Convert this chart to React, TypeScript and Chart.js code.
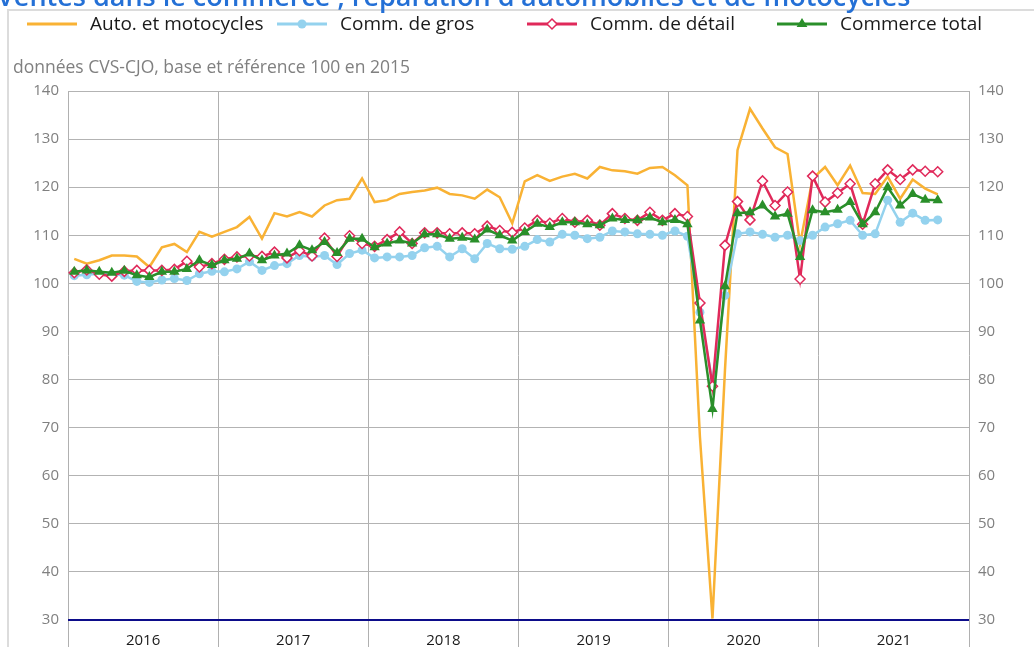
import React, { useEffect, useRef } from 'react';
import { Chart, registerables } from 'chart.js';

Chart.register(...registerables);

const TITLE = "Ventes dans le commerce ; réparation d'automobiles et de motocycles";
const SUBTITLE = 'données CVS-CJO, base et référence 100 en 2015';
const years = ['2016', '2017', '2018', '2019', '2020', '2021'];
const seriesNames = ['Auto. et motocycles', 'Comm. de gros', 'Comm. de détail', 'Commerce total'];

// Monthly values, January 2016 to October 2021
const autoMoto = [
  105.1, 104.1, 104.8, 105.8, 105.8, 105.6, 103.4, 107.5, 108.2, 106.5, 110.7, 109.7,
  110.7, 111.7, 113.8, 109.3, 114.6, 113.9, 114.8, 113.9, 116.2, 117.3, 117.6, 121.8,
  116.9, 117.3, 118.6, 119.0, 119.3, 119.9, 118.6, 118.3, 117.6, 119.5, 117.9, 112.5,
  121.2, 122.5, 121.3, 122.2, 122.8, 121.8, 124.2, 123.5, 123.3, 122.8, 124.0, 124.2,
  122.5, 120.4, 68.0, 30.3, 82.0, 127.7, 136.3, 132.2, 128.3, 126.9, 108.2, 121.8,
  124.2, 120.4, 124.5, 118.8, 118.6, 122.2, 117.6, 121.6, 119.7, 118.5,
];
const commGros = [
  101.6, 101.8, 102.0, 101.9, 101.7, 100.4, 100.2, 100.7, 101.0, 100.6, 102.0, 102.5,
  102.4, 103.0, 104.5, 102.7, 103.7, 104.1, 105.8, 105.5, 105.8, 103.9, 106.2, 106.9,
  105.3, 105.5, 105.5, 105.8, 107.4, 107.7, 105.5, 107.2, 105.1, 108.3, 107.2, 107.1,
  107.7, 109.1, 108.6, 110.2, 110.0, 109.3, 109.6, 110.9, 110.7, 110.3, 110.2, 110.0,
  110.9, 109.8, 94.0, 79.5, 97.5, 110.3, 110.7, 110.2, 109.6, 110.0, 108.9, 110.0,
  111.7, 112.4, 113.1, 110.0, 110.3, 117.3, 112.7, 114.6, 113.1, 113.2,
];
const commDetail = [
  102.2, 102.8, 101.9, 101.5, 102.5, 102.7, 102.7, 102.7, 102.9, 104.6, 103.4, 104.1,
  105.0, 105.5, 105.7, 105.6, 106.5, 105.3, 106.8, 105.7, 109.4, 105.6, 109.9, 108.3,
  107.7, 109.1, 110.7, 108.3, 110.5, 110.5, 110.3, 110.5, 110.3, 111.9, 111.0, 110.6,
  111.5, 113.1, 112.5, 113.5, 112.7, 113.1, 112.1, 114.5, 113.5, 113.1, 114.8, 113.1,
  114.5, 113.9, 95.9, 78.6, 107.9, 117.0, 113.2, 121.3, 116.2, 119.0, 100.9, 122.3,
  116.9, 118.8, 120.7, 112.3, 120.7, 123.6, 121.6, 123.6, 123.3, 123.2,
];
const commTotal = [
  102.4, 102.7, 102.4, 102.2, 102.6, 101.7, 101.3, 102.4, 102.4, 103.0, 104.8, 103.8,
  104.8, 105.1, 106.2, 104.8, 105.8, 106.2, 107.9, 106.9, 108.6, 106.3, 109.3, 109.3,
  107.5, 108.3, 108.9, 108.3, 110.2, 110.2, 109.3, 109.5, 109.1, 111.2, 110.0, 108.9,
  110.7, 112.4, 111.7, 112.7, 112.7, 112.3, 112.1, 113.5, 113.2, 113.1, 113.7, 112.7,
  113.2, 112.3, 92.3, 73.9, 99.4, 114.6, 114.8, 116.2, 113.9, 114.5, 105.5, 115.2,
  114.8, 115.3, 116.9, 112.3, 114.8, 120.0, 116.2, 118.6, 117.4, 117.3,
];

const Y_MIN = 30;
const Y_MAX = 140;
const Y_STEP = 10;
const MONTHS_PER_YEAR = 12;

const FONT = '"Open Sans", "Noto Sans", sans-serif';
const COLORS = ['#f9b234', '#94d2ee', '#e0295a', '#2a8f2a'];

const toPoints = (arr: number[]) => arr.map((v, i) => ({ x: i + 0.5, y: v }));

function drawMarker(ctx: CanvasRenderingContext2D, style: string, x: number, y: number, r: number, color: string) {
  ctx.save();
  ctx.beginPath();
  if (style === 'circle') {
    ctx.arc(x, y, r, 0, Math.PI * 2);
    ctx.fillStyle = color;
    ctx.fill();
  } else if (style === 'rectRot') {
    ctx.moveTo(x, y - r);
    ctx.lineTo(x + r, y);
    ctx.lineTo(x, y + r);
    ctx.lineTo(x - r, y);
    ctx.closePath();
    ctx.fillStyle = '#ffffff';
    ctx.fill();
    ctx.lineWidth = 1.5;
    ctx.strokeStyle = color;
    ctx.stroke();
  } else if (style === 'triangle') {
    const h = r * 1.5;
    ctx.moveTo(x, y - r);
    ctx.lineTo(x + r * 0.9, y + h - r);
    ctx.lineTo(x - r * 0.9, y + h - r);
    ctx.closePath();
    ctx.fillStyle = color;
    ctx.fill();
  }
  ctx.restore();
}

const decorPlugin = {
  id: 'decor',
  beforeDraw(chart: any) {
    const ctx: CanvasRenderingContext2D = chart.ctx;
    ctx.save();
    ctx.fillStyle = '#ffffff';
    ctx.fillRect(0, 0, chart.width, chart.height);
    // frame
    ctx.strokeStyle = '#dcdcdc';
    ctx.lineWidth = 2;
    ctx.strokeRect(8, 10, chart.width + 50, chart.height + 50);
    // title (cut at top)
    ctx.fillStyle = '#2470d6';
    ctx.font = `600 27px ${FONT}`;
    ctx.textBaseline = 'alphabetic';
    ctx.textAlign = 'left';
    ctx.fillText(TITLE, -3, 6);
    // subtitle
    ctx.fillStyle = '#808080';
    ctx.font = `17.5px ${FONT}`;
    ctx.textBaseline = 'middle';
    ctx.fillText(SUBTITLE, 13, 68);
    // legend
    const metas = chart.data.datasets;
    ctx.font = `19px ${FONT}`;
    metas.forEach((ds: any, i: number) => {
      const x0 = 27 + 250 * i;
      const y = 24;
      ctx.strokeStyle = ds.borderColor;
      ctx.lineWidth = 3;
      ctx.beginPath();
      ctx.moveTo(x0, y);
      ctx.lineTo(x0 + 50, y);
      ctx.stroke();
      if (ds.pointRadius > 0) drawMarker(ctx, ds.pointStyle, x0 + 25, y, ds.pointRadius, ds.borderColor);
      ctx.fillStyle = '#1a1a1a';
      ctx.textBaseline = 'middle';
      ctx.fillText(ds.label, x0 + 63, y + 1);
    });
    ctx.restore();
  },
};

export default function App() {
  const ref = useRef<HTMLCanvasElement | null>(null);

  useEffect(() => {
    if (!ref.current) return;
    const xTickValues: number[] = [];
    for (let v = 0; v <= years.length * MONTHS_PER_YEAR; v += MONTHS_PER_YEAR / 2) xTickValues.push(v);

    const yTickOpts = {
      stepSize: Y_STEP,
      padding: 9,
      color: '#808080',
      font: { family: FONT, size: 15 },
    };

    const chart = new Chart(ref.current, {
      type: 'line',
      data: {
        datasets: [
          {
            label: seriesNames[0],
            data: toPoints(autoMoto),
            borderColor: COLORS[0],
            backgroundColor: COLORS[0],
            borderWidth: 2.5,
            pointRadius: 0,
            order: 4,
          },
          {
            label: seriesNames[1],
            data: toPoints(commGros),
            borderColor: COLORS[1],
            backgroundColor: COLORS[1],
            borderWidth: 2.5,
            pointStyle: 'circle',
            pointRadius: 4.5,
            pointBorderWidth: 0,
            pointBackgroundColor: COLORS[1],
            order: 3,
          },
          {
            label: seriesNames[2],
            data: toPoints(commDetail),
            borderColor: COLORS[2],
            backgroundColor: '#ffffff',
            borderWidth: 2.5,
            pointStyle: 'rectRot',
            pointRadius: 5,
            pointBorderWidth: 1.5,
            pointBorderColor: COLORS[2],
            pointBackgroundColor: '#ffffff',
            order: 2,
          },
          {
            label: seriesNames[3],
            data: toPoints(commTotal),
            borderColor: COLORS[3],
            backgroundColor: COLORS[3],
            borderWidth: 2.5,
            pointStyle: 'triangle',
            pointRadius: 6,
            pointBorderWidth: 0,
            pointBackgroundColor: COLORS[3],
            order: 1,
          },
        ],
      } as any,
      options: {
        responsive: false,
        animation: false,
        layout: { padding: { top: 91, left: 0, right: 0, bottom: 0 } },
        plugins: {
          legend: { display: false },
          tooltip: { enabled: false },
          title: { display: false },
        },
        scales: {
          x: {
            type: 'linear',
            min: 0,
            max: years.length * MONTHS_PER_YEAR,
            afterBuildTicks: (s: any) => {
              s.ticks = xTickValues.map((v) => ({ value: v }));
            },
            afterFit: (s: any) => {
              s.height = 60;
            },
            border: { display: false },
            grid: {
              color: (c: any) =>
                c.tick && c.tick.value % MONTHS_PER_YEAR === 0 ? '#b0b0b0' : 'rgba(0,0,0,0)',
              lineWidth: 1,
              drawTicks: true,
              tickLength: 60,
            },
            ticks: {
              autoSkip: false,
              maxRotation: 0,
              padding: -48,
              color: '#1a1a1a',
              font: { family: FONT, size: 15 },
              callback: (v: any) => {
                const n = Number(v);
                return n % MONTHS_PER_YEAR === MONTHS_PER_YEAR / 2 ? years[(n - MONTHS_PER_YEAR / 2) / MONTHS_PER_YEAR] : '';
              },
            },
          },
          y: {
            position: 'left',
            min: Y_MIN,
            max: Y_MAX,
            afterFit: (s: any) => {
              s.width = 68;
            },
            border: { display: false },
            grid: {
              drawTicks: false,
              color: (c: any) => (c.tick && c.tick.value === Y_MIN ? '#0c0c8a' : '#b3b3b3'),
              lineWidth: (c: any) => (c.tick && c.tick.value === Y_MIN ? 2 : 1),
            },
            ticks: yTickOpts,
          },
          y2: {
            position: 'right',
            min: Y_MIN,
            max: Y_MAX,
            afterFit: (s: any) => {
              s.width = 65;
            },
            border: { display: false },
            grid: { display: false, drawTicks: false },
            ticks: yTickOpts,
          },
        },
      } as any,
      plugins: [decorPlugin],
    });
    return () => chart.destroy();
  }, []);

  return (
    <div
      style={{
        position: 'fixed',
        left: 0,
        top: 0,
        width: 1034,
        height: 647,
        overflow: 'hidden',
        background: '#ffffff',
      }}
    >
      <canvas ref={ref} width={1034} height={680} style={{ display: 'block', width: 1034, height: 680 }} />
    </div>
  );
}
